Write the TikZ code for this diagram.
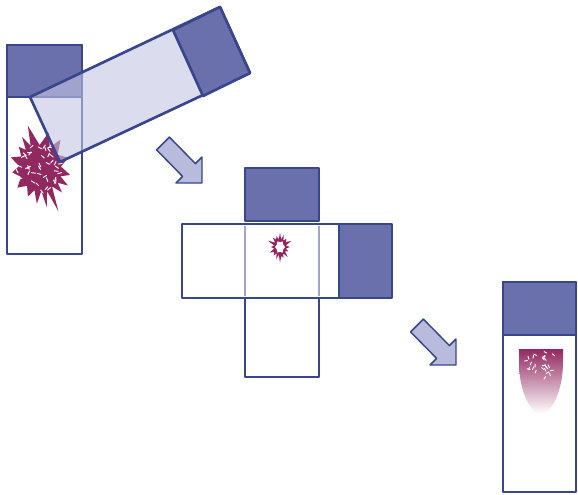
\documentclass[tikz,border=0pt]{standalone}
\usetikzlibrary{calc}
\definecolor{tubeline}{RGB}{58,70,140}
\definecolor{capblue}{RGB}{106,112,172}
\definecolor{glassblue}{RGB}{196,197,228}
\definecolor{arrowblue}{RGB}{185,187,221}
\definecolor{berry}{RGB}{146,40,96}

\begin{document}
\begin{tikzpicture}[x=0.75pt, y=-0.75pt, line join=round,
            outline/.style ={draw=tubeline, line width=2pt},
            capbox/.style ={outline, fill=capblue},
            glass/.style ={outline, fill=glassblue, fill opacity=0.6},
            bigarrow/.style ={draw=tubeline, line width=1.1pt, fill=arrowblue},
            speck/.style ={white, line width=0.7pt, line cap=round}]

        \useasboundingbox (0,0) rectangle (578,494);

        % upright tube, first stage
        \draw[outline, fill=white] (7,45) rectangle (82,254);
        \draw[capbox] (7,45) rectangle (82,97);

        % burst inside the tube (angle/radius of tips and notches)
        \fill[berry, shift={(40,168)}] (356:21)
            \foreach \a/\r in {13/31, 22/22, 32/33, 40/23, 48/33, 57/22, 67/47, 73/24, 80/40, 87/23,
                               95/36, 104/23, 113/31, 126/22, 139/30, 155/21, 171/28, 185/21, 200/31, 212/22,
                               225/30, 232/23, 240/36, 247/24, 254/44, 269/23, 284/37, 295/23, 306/35, 323/22, 340/30}
            { -- (\a:\r) } -- cycle;
        \pgfmathsetseed{4}
        \foreach \k in {1,...,45} {
            \pgfmathsetmacro{\ra}{360*rnd}
            \pgfmathsetmacro{\rr}{24*sqrt(rnd)}
            \pgfmathsetmacro{\sa}{360*rnd}
            \draw[speck, shift={(40,168)}] (\ra:\rr) -- ++(\sa:4);
        }

        % tilted tube over it
        \draw[glass] (30,97) -- (60,162) -- (250,73) -- (220,7) -- cycle;
        \draw[capbox] (173,30) -- (203,96) -- (250,73) -- (220,7) -- cycle;

        % arrows between the stages
        \foreach \cx/\cy in {202/183, 456/365}
            \draw[bigarrow] (\cx,\cy) -- ++(0,-26) -- ++(-6.6,6.6) -- ++(-26,-26.5)
                -- ++(-12.8,12.8) -- ++(26,26.5) -- ++(-6.6,6.6) -- cycle;

        % unfolded tube, second stage
        \draw[capbox] (245,168) rectangle (319,221);
        \draw[outline, fill=white] (182,224) rectangle (339,298);
        \draw[capbox] (339,224) rectangle (392,298);
        \draw[outline, fill=white] (245,298) rectangle (319,377);
        \draw[glassblue!75!tubeline, line width=2pt] (245,226) -- (245,296) (319,226) -- (319,296);

        % small burst
        \begin{scope}[shift={(280,247)}, yscale=1.3]
            \fill[berry] (0:10)
                \foreach \r [count=\k] in {6,9,6,11,6,9,7,12,6,10,6,9,7,11,6,9,6,13,6,10,7,9,6,11,6,10,6,9,7,12,6}
                { -- ({\k*360/32}:\r) } -- cycle;
            \fill[white] (0:5)
                \foreach \k in {1,...,11} { -- ({\k*30}:{5-mod(\k,2)*1.3}) } -- cycle;
        \end{scope}

        % upright tube, last stage
        \draw[outline, fill=white] (503,282) rectangle (576,492);
        \draw[capbox] (503,282) rectangle (576,335);
        \shade[top color=berry, bottom color=white] (519,349) -- (563,349) -- (563,362)
            .. controls (563,392) and (551,414) .. (541,414)
            .. controls (531,414) and (519,392) .. (519,362) -- cycle;
        \pgfmathsetseed{11}
        \foreach \k in {1,...,26} {
            \pgfmathsetmacro{\sx}{526+30*rnd}
            \pgfmathsetmacro{\sy}{352+26*rnd}
            \pgfmathsetmacro{\sa}{360*rnd}
            \draw[speck] (\sx,\sy) -- ++(\sa:3);
        }
\end{tikzpicture}
\end{document}
